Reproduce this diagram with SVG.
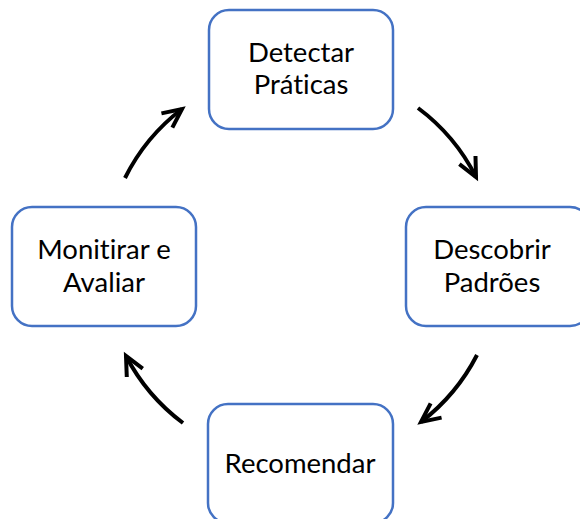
<svg xmlns="http://www.w3.org/2000/svg" width="580" height="519" viewBox="0 0 580 519">
  <style>
    .box { fill: #ffffff; stroke: #4472c4; stroke-width: 2.5; }
    .label { font-family: Lato, "Open Sans", "Liberation Sans", sans-serif; font-size: 27.5px; fill: #000000; text-anchor: middle; font-variant-ligatures: none; font-feature-settings: "liga" 0; }
    .arc { fill: none; stroke: #000000; stroke-width: 4; marker-end: url(#head); }
  </style>
  <defs>
    <marker id="head" markerUnits="userSpaceOnUse" markerWidth="40" markerHeight="40" refX="0" refY="0" orient="auto" overflow="visible">
      <path d="M-19,-9 L0,0 L-19,9" fill="none" stroke="#000000" stroke-width="4" stroke-linejoin="miter"/>
    </marker>
  </defs>

  <g id="connectors">
    <path class="arc" d="M125,178 A196,196 0 0 1 182,109"/>
    <path class="arc" d="M418,108 A196,196 0 0 1 476,177"/>
    <path class="arc" d="M477,355 A198,198 0 0 1 421,422"/>
    <path class="arc" d="M183,423 A197,197 0 0 1 126,356"/>
  </g>

  <g id="detectar">
    <rect class="box" x="209" y="10" width="184" height="119" rx="20"/>
    <text class="label" x="301" y="62">Detectar</text>
    <text class="label" x="301" y="94">Práticas</text>
  </g>

  <g id="descobrir">
    <rect class="box" x="406" y="207" width="184" height="119" rx="20"/>
    <text class="label" x="492" y="259">Descobrir</text>
    <text class="label" x="492" y="292">Padrões</text>
  </g>

  <g id="recomendar">
    <rect class="box" x="208" y="404" width="185" height="119" rx="20"/>
    <text class="label" x="300" y="473">Recomendar</text>
  </g>

  <g id="monitorar">
    <rect class="box" x="12" y="207" width="184" height="119" rx="20"/>
    <text class="label" x="104" y="259">Monitirar e</text>
    <text class="label" x="104" y="292">Avaliar</text>
  </g>
</svg>
